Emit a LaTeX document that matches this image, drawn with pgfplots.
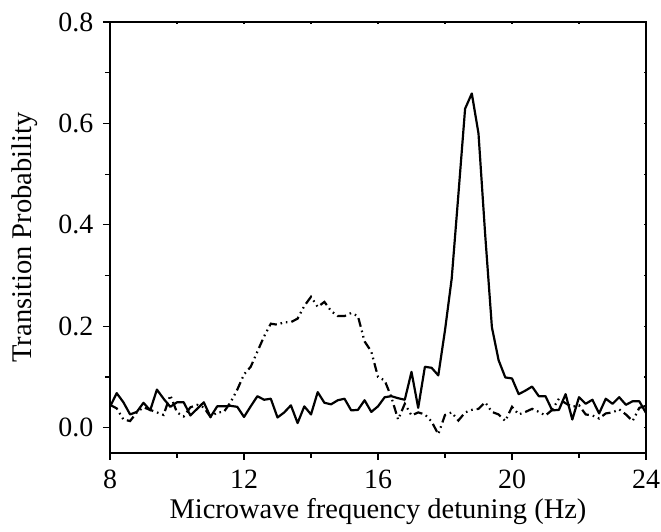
\documentclass[border=0pt]{standalone}
\usepackage{fontspec}
\setmainfont{Liberation Serif}
\usepackage{pgfplots}
\pgfplotsset{compat=1.18}

\begin{document}
\fontsize{14}{16}\selectfont
\begin{tikzpicture}
  % main axis: labels and outward ticks on left and bottom
  \begin{axis}[
    name=main,
    scale only axis,
    width=268bp, height=215.5bp,
    xmin=8, xmax=24, ymin=-0.05, ymax=0.8,
    xtick={8,12,16,20,24},
    minor xtick={10,14,18,22},
    ytick={0,0.2,0.4,0.6,0.8},
    minor ytick={0.1,0.3,0.5,0.7},
    xtick pos=bottom, ytick pos=left,
    tick align=outside,
    major tick length=3.5bp, minor tick length=2.5bp,
    tick style={line width=0.6pt, black},
    axis line style={line width=0.7pt},
    yticklabel style={/pgf/number format/.cd, fixed, fixed zerofill, precision=1},
    /pgf/number format/assume math mode=true,
    ticklabel style={font=\fontsize{14}{16}\selectfont},
    label style={font=\fontsize{14.3}{17}\selectfont},
    xlabel={Microwave frequency detuning (Hz)},
    ylabel={Transition Probability},
    xlabel style={yshift=4.5bp},
    ylabel style={yshift=1bp},
  ]
  % solid trace
  \addplot[black, line width=1.1pt, line join=round] coordinates {
    (8.0,0.041) (8.2,0.068) (8.4,0.050) (8.6,0.026) (8.8,0.031)
    (9.0,0.049) (9.2,0.034) (9.4,0.075) (9.6,0.057) (9.8,0.041)
    (10.0,0.050) (10.2,0.050) (10.4,0.024) (10.6,0.037) (10.8,0.050)
    (11.0,0.021) (11.2,0.042) (11.4,0.042) (11.6,0.043) (11.8,0.041)
    (12.0,0.021) (12.2,0.042) (12.4,0.062) (12.6,0.055) (12.8,0.057)
    (13.0,0.020) (13.2,0.030) (13.4,0.044) (13.6,0.009) (13.8,0.042)
    (14.0,0.026) (14.2,0.070) (14.4,0.049) (14.6,0.046) (14.8,0.054)
    (15.0,0.057) (15.2,0.034) (15.4,0.035) (15.6,0.054) (15.8,0.031)
    (16.0,0.042) (16.2,0.060) (16.4,0.062) (16.6,0.058) (16.8,0.055)
    (17.0,0.110) (17.2,0.039) (17.4,0.120) (17.6,0.118) (17.8,0.103)
    (18.0,0.192) (18.2,0.294) (18.4,0.460) (18.6,0.629) (18.8,0.659)
    (19.0,0.580) (19.2,0.380) (19.4,0.198) (19.6,0.133) (19.8,0.099)
    (20.0,0.097) (20.2,0.066) (20.4,0.073) (20.6,0.081) (20.8,0.062)
    (21.0,0.062) (21.2,0.034) (21.4,0.035) (21.6,0.066) (21.8,0.016)
    (22.0,0.060) (22.2,0.047) (22.4,0.055) (22.6,0.028) (22.8,0.057)
    (23.0,0.047) (23.2,0.060) (23.4,0.045) (23.6,0.052) (23.8,0.052)
    (24.0,0.029)
  };
  % dash-dot-dot trace
  \addplot[black, line width=1.1pt, dash pattern=on 4.5pt off 2pt on 0.8pt off 2pt on 0.8pt off 2pt] coordinates {
    (8.0,0.045) (8.2,0.038) (8.4,0.016) (8.6,0.013) (8.8,0.030)
    (9.0,0.040) (9.2,0.035) (9.4,0.030) (9.6,0.025) (9.8,0.064)
    (10.0,0.030) (10.2,0.022) (10.4,0.040) (10.6,0.045) (10.8,0.040)
    (11.0,0.021) (11.2,0.030) (11.4,0.031) (11.6,0.050) (11.8,0.075)
    (12.0,0.105) (12.2,0.120) (12.4,0.150) (12.6,0.180) (12.8,0.205)
    (13.0,0.203) (13.2,0.208) (13.4,0.208) (13.6,0.215) (13.8,0.240)
    (14.0,0.258) (14.2,0.238) (14.4,0.248) (14.6,0.230) (14.8,0.220)
    (15.0,0.220) (15.2,0.226) (15.4,0.220) (15.6,0.170) (15.8,0.150)
    (16.0,0.100) (16.2,0.093) (16.4,0.060) (16.6,0.016) (16.8,0.047)
    (17.0,0.024) (17.2,0.030) (17.4,0.026) (17.6,0.012) (17.8,-0.013)
    (18.0,0.025) (18.2,0.030) (18.4,0.014) (18.6,0.030) (18.8,0.035)
    (19.0,0.037) (19.2,0.050) (19.4,0.031) (19.6,0.026) (19.8,0.013)
    (20.0,0.041) (20.2,0.026) (20.4,0.031) (20.6,0.037) (20.8,0.031)
    (21.0,0.024) (21.2,0.035) (21.4,0.057) (21.6,0.048) (21.8,0.041)
    (22.0,0.044) (22.2,0.026) (22.4,0.024) (22.6,0.018) (22.8,0.028)
    (23.0,0.030) (23.2,0.036) (23.4,0.026) (23.6,0.013) (23.8,0.039)
    (24.0,0.043)
  };
  \end{axis}
  % small inward ticks on the top and right edges
  \begin{axis}[
    scale only axis,
    width=268bp, height=215.5bp,
    xmin=8, xmax=24, ymin=-0.05, ymax=0.8,
    xtick={8,12,16,20,24},
    minor xtick={10,14,18,22},
    ytick={0,0.2,0.4,0.6,0.8},
    minor ytick={0.1,0.3,0.5,0.7},
    xtick pos=top, ytick pos=right,
    tick align=inside,
    major tick length=1.2bp, minor tick length=1.2bp,
    tick style={line width=0.6pt, black},
    axis line style={line width=0.7pt},
    xticklabels={}, yticklabels={},
  ]
  \end{axis}
  % page frame as in the reference: the last tick label runs to the edge
  \pgfresetboundingbox
  \path[use as bounding box] ([xshift=-55bp,yshift=-39.5bp]main.south west)
    rectangle ([xshift=7.5bp,yshift=11bp]main.north east);
\end{tikzpicture}
\end{document}
